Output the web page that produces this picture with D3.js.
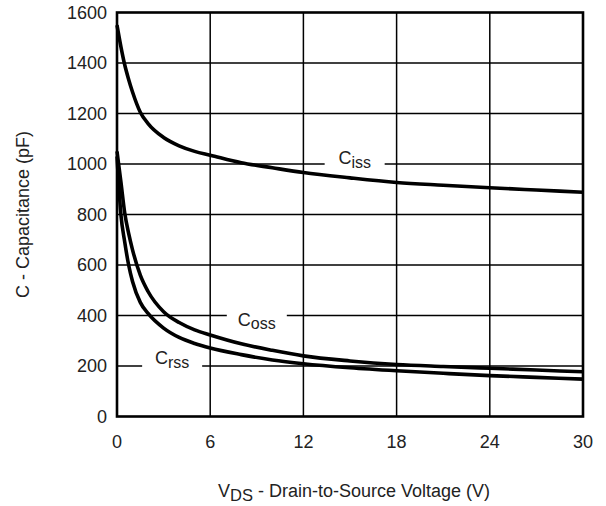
<!DOCTYPE html>
<html>
<head>
<meta charset="utf-8">
<script src="https://cdn.jsdelivr.net/npm/d3@7"></script>
<style>
  body { margin: 0; background: #fff; }
  svg { display: block; font-family: "Liberation Sans", Arial, Helvetica, sans-serif; }
</style>
</head>
<body>
<div id="chart"></div>
<script>
// drain-source voltage (V) samples
const voltage = [0, 0.25, 0.5, 0.75, 1, 1.5, 2, 3, 4, 5, 6, 8, 10, 12, 15, 18, 21, 24, 27, 30];
// capacitances in pF
const ciss = [1550, 1465, 1392, 1335, 1285, 1205, 1160, 1105, 1072, 1050, 1035, 1005, 985, 966, 945, 927, 916, 906, 897, 888];
const coss = [1050, 930, 805, 725, 660, 560, 495, 415, 372, 343, 323, 288, 262, 240, 220, 206, 198, 191, 184, 177];
const crss = [1030, 800, 690, 600, 535, 452, 408, 350, 313, 289, 271, 245, 224, 209, 193, 181, 171, 162, 155, 148];

const xTicks = [0, 6, 12, 18, 24, 30];
const yTicks = [0, 200, 400, 600, 800, 1000, 1200, 1400, 1600];

// curve labels: main letter, subscript, anchor (V, pF)
const labelNames = ["C", "C", "C"];
const labelSubs = ["iss", "oss", "rss"];
const labelV = [15.3, 9.0, 3.55];
const labelC = [1000, 400, 200];

const W = 606, H = 506;
const margin = {top: 12.5, right: 23, bottom: 89.5, left: 117};
const w = W - margin.left - margin.right;
const h = H - margin.top - margin.bottom;

const svg = d3.select("#chart").append("svg")
    .attr("width", W)
    .attr("height", H);

const g = svg.append("g")
    .attr("transform", `translate(${margin.left},${margin.top})`);

const x = d3.scaleLinear().domain([0, 30]).range([0, w]);
const y = d3.scaleLinear().domain([0, 1600]).range([h, 0]);

// grid
g.append("g")
    .selectAll("line")
    .data(xTicks.slice(1, -1))
    .join("line")
    .attr("x1", d => x(d)).attr("x2", d => x(d))
    .attr("y1", 0).attr("y2", h)
    .attr("stroke", "#000").attr("stroke-width", 1.5);

g.append("g")
    .selectAll("line")
    .data(yTicks.slice(1, -1))
    .join("line")
    .attr("x1", 0).attr("x2", w)
    .attr("y1", d => y(d)).attr("y2", d => y(d))
    .attr("stroke", "#000").attr("stroke-width", 1.5);

// tick labels
const fontSize = 18;
g.append("g")
    .selectAll("text")
    .data(yTicks)
    .join("text")
    .attr("x", -10)
    .attr("y", d => y(d))
    .attr("dy", "0.35em")
    .attr("text-anchor", "end")
    .attr("font-size", fontSize)
    .attr("fill", "#222")
    .text(d => d);

g.append("g")
    .selectAll("text")
    .data(xTicks)
    .join("text")
    .attr("x", d => x(d))
    .attr("y", h + 31)
    .attr("text-anchor", "middle")
    .attr("font-size", fontSize)
    .attr("fill", "#222")
    .text(d => d);

// curves
const series = [ciss, coss, crss];
const line = d3.line()
    .x((d, i) => x(voltage[i]))
    .y(d => y(d))
    .curve(d3.curveMonotoneX);

g.append("g")
    .selectAll("path")
    .data(series)
    .join("path")
    .attr("d", line)
    .attr("fill", "none")
    .attr("stroke", "#000")
    .attr("stroke-width", 3.6)
    .attr("stroke-linejoin", "round");

// labels with white backing that breaks the gridline
const labelDy = [0, 10, -2];
const labels = g.append("g")
    .selectAll("g")
    .data(labelNames)
    .join("g")
    .attr("transform", (d, i) => `translate(${x(labelV[i])},${y(labelC[i])})`);

labels.append("rect")
    .attr("x", -30).attr("width", 60)
    .attr("y", -4).attr("height", 8)
    .attr("fill", "#fff");

const lt = labels.append("text")
    .attr("y", (d, i) => labelDy[i])
    .attr("text-anchor", "middle")
    .attr("font-size", 18)
    .attr("fill", "#222");
lt.append("tspan").text(d => d);
lt.append("tspan")
    .attr("font-size", 16)
    .attr("dy", 3.5)
    .text((d, i) => labelSubs[i]);

// frame
g.append("rect")
    .attr("width", w).attr("height", h)
    .attr("fill", "none")
    .attr("stroke", "#000")
    .attr("stroke-width", 2.6);

// axis titles
const xt = svg.append("text")
    .attr("x", margin.left + w / 2 + 4)
    .attr("y", 497)
    .attr("text-anchor", "middle")
    .attr("font-size", 18)
    .attr("fill", "#222");
xt.append("tspan").text("V");
xt.append("tspan").attr("font-size", 16.5).attr("dy", 4).text("DS");
xt.append("tspan").attr("dy", -4).text(" - Drain-to-Source Voltage (V)");

svg.append("text")
    .attr("transform", `translate(28.5,${margin.top + h / 2}) rotate(-90)`)
    .attr("text-anchor", "middle")
    .attr("font-size", 18)
    .attr("fill", "#222")
    .text("C - Capacitance (pF)");
</script>
</body>
</html>
